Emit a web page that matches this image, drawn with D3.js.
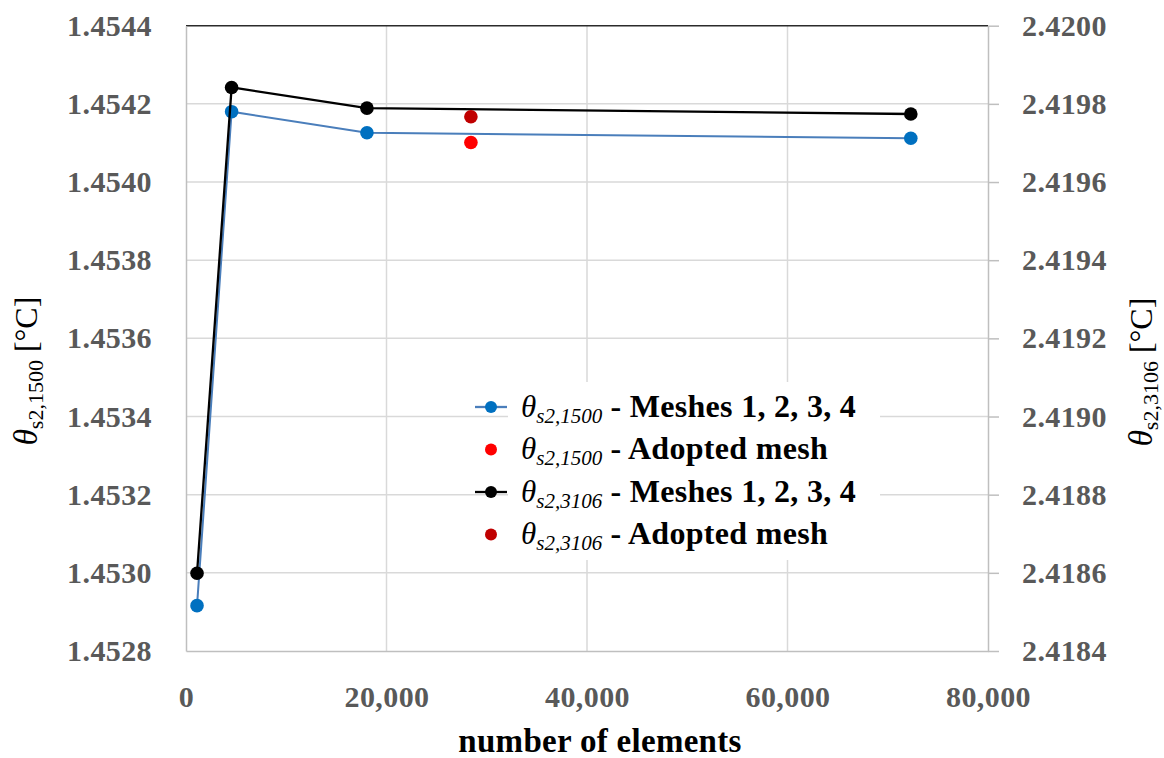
<!DOCTYPE html>
<html>
<head>
<meta charset="utf-8">
<script src="https://cdn.jsdelivr.net/npm/d3@7"></script>
<style>
  body { margin: 0; background: #fff; }
  svg { display: block; }
</style>
</head>
<body>
<svg id="chart" width="1164" height="758"></svg>
<script>
// Mesh study: number of elements vs. temperature at two sensor points
const meshElements = [1100, 4550, 18050, 72300];
const theta1500 = [1.452916, 1.454180, 1.454126, 1.454112];
const theta3106 = [2.418599, 2.419842, 2.419789, 2.419774];
const adoptedElements = [28420];
const adopted1500 = [1.454101];
const adopted3106 = [2.419767];

const xTickValues = [0, 20000, 40000, 60000, 80000];
const leftTickLabels = ["1.4528", "1.4530", "1.4532", "1.4534", "1.4536", "1.4538", "1.4540", "1.4542", "1.4544"];
const rightTickLabels = ["2.4184", "2.4186", "2.4188", "2.4190", "2.4192", "2.4194", "2.4196", "2.4198", "2.4200"];

const legendEntries = [
  { sub: "s2,1500", text: " - Meshes 1, 2, 3, 4", color: "#0070C0", lineColor: "#4a7ebb", line: true },
  { sub: "s2,1500", text: " - Adopted mesh", color: "#FF0000", line: false },
  { sub: "s2,3106", text: " - Meshes 1, 2, 3, 4", color: "#000000", lineColor: "#000000", line: true },
  { sub: "s2,3106", text: " - Adopted mesh", color: "#C00000", line: false }
];

const svg = d3.select("#chart");
const FONT = "'Liberation Serif', 'Times New Roman', serif";

const plot = { left: 186, right: 988, top: 25.7, bottom: 651 };

const x = d3.scaleLinear().domain([0, 80000]).range([plot.left, plot.right]);
const yL = d3.scaleLinear().domain([1.4528, 1.4544]).range([plot.bottom, plot.top]);
const yR = d3.scaleLinear().domain([2.4184, 2.4200]).range([plot.bottom, plot.top]);

const leftTickValues = leftTickLabels.map(Number);
const rightTickValues = rightTickLabels.map(Number);

// gridlines
const grid = svg.append("g");
grid.selectAll("line.h")
  .data(leftTickValues.slice(1, -1))
  .join("line")
  .attr("x1", plot.left).attr("x2", plot.right)
  .attr("y1", d => yL(d)).attr("y2", d => yL(d))
  .attr("stroke", "#d9d9d9").attr("stroke-width", 1.5);
grid.selectAll("line.v")
  .data(xTickValues.slice(1, -1))
  .join("line")
  .attr("x1", d => x(d)).attr("x2", d => x(d))
  .attr("y1", plot.top).attr("y2", plot.bottom)
  .attr("stroke", "#d9d9d9").attr("stroke-width", 1.5);

// top border of the plot area
svg.append("line")
  .attr("x1", plot.left).attr("x2", plot.right)
  .attr("y1", yL(1.4544)).attr("y2", yL(1.4544))
  .attr("stroke", "#2b2b2b").attr("stroke-width", 1.5);

// legend background hides the grid behind it
svg.append("rect")
  .attr("x", 508).attr("y", 382)
  .attr("width", 372).attr("height", 178)
  .attr("fill", "#fff");

function styleAxis(g) {
  g.select(".domain").attr("stroke", "#bfbfbf").attr("stroke-width", 1.5);
  g.selectAll(".tick line").attr("stroke", "#bfbfbf").attr("stroke-width", 1.5);
  g.selectAll(".tick text")
    .attr("fill", "#595959")
    .attr("font-family", FONT)
    .attr("font-weight", "bold")
    .attr("font-size", 30)
    .attr("letter-spacing", 0.4);
}

// bottom axis
const xAxis = svg.append("g")
  .attr("transform", `translate(0,${plot.bottom})`)
  .call(d3.axisBottom(x).tickValues(xTickValues).tickSize(0).tickSizeOuter(0)
    .tickPadding(35).tickFormat(d3.format(",")));
styleAxis(xAxis);

// left axis
const yLAxis = svg.append("g")
  .attr("transform", `translate(${plot.left},0)`)
  .call(d3.axisLeft(yL).tickValues(leftTickValues).tickSize(0).tickSizeOuter(0)
    .tickPadding(34).tickFormat((d, i) => leftTickLabels[i]));
styleAxis(yLAxis);

// right axis
const yRAxis = svg.append("g")
  .attr("transform", `translate(${plot.right},0)`)
  .call(d3.axisRight(yR).tickValues(rightTickValues).tickSize(11).tickSizeOuter(0)
    .tickPadding(23).tickFormat((d, i) => rightTickLabels[i]));
styleAxis(yRAxis);

// series
const s1500 = meshElements.map((e, i) => ({ x: e, y: theta1500[i] }));
const s3106 = meshElements.map((e, i) => ({ x: e, y: theta3106[i] }));

svg.append("path")
  .datum(s1500)
  .attr("fill", "none").attr("stroke", "#4a7ebb").attr("stroke-width", 2)
  .attr("d", d3.line().x(d => x(d.x)).y(d => yL(d.y)));
svg.append("g").selectAll("circle")
  .data(s1500).join("circle")
  .attr("cx", d => x(d.x)).attr("cy", d => yL(d.y)).attr("r", 6.8)
  .attr("fill", "#0070C0");

svg.append("g").selectAll("circle")
  .data(adoptedElements.map((e, i) => ({ x: e, y: adopted1500[i] })))
  .join("circle")
  .attr("cx", d => x(d.x)).attr("cy", d => yL(d.y)).attr("r", 6.8)
  .attr("fill", "#FF0000");

svg.append("path")
  .datum(s3106)
  .attr("fill", "none").attr("stroke", "#000").attr("stroke-width", 2.3)
  .attr("d", d3.line().x(d => x(d.x)).y(d => yR(d.y)));
svg.append("g").selectAll("circle")
  .data(s3106).join("circle")
  .attr("cx", d => x(d.x)).attr("cy", d => yR(d.y)).attr("r", 6.8)
  .attr("fill", "#000");

svg.append("g").selectAll("circle")
  .data(adoptedElements.map((e, i) => ({ x: e, y: adopted3106[i] })))
  .join("circle")
  .attr("cx", d => x(d.x)).attr("cy", d => yR(d.y)).attr("r", 6.8)
  .attr("fill", "#C00000");

// legend
const legend = svg.append("g");
const rowY = [407, 449.5, 492, 534.5];
legendEntries.forEach((e, i) => {
  const g = legend.append("g").attr("transform", `translate(0,${rowY[i]})`);
  if (e.line) {
    g.append("line").attr("x1", 475).attr("x2", 507).attr("y1", 0).attr("y2", 0)
      .attr("stroke", e.lineColor).attr("stroke-width", 2.3);
  }
  g.append("circle").attr("cx", 491).attr("cy", 0).attr("r", 6).attr("fill", e.color);
  const t = g.append("text").attr("x", 521).attr("y", 9.5)
    .attr("font-family", FONT).attr("fill", "#000");
  t.append("tspan").attr("font-style", "italic").attr("font-size", 31).text("θ");
  t.append("tspan").attr("font-style", "italic").attr("font-size", 21).attr("dy", 6).text(e.sub);
  t.append("tspan").attr("font-weight", "bold").attr("font-size", 32).attr("dy", -6)
    .attr("letter-spacing", 0.3).text(e.text);
});

// axis titles
function axisTitle(tx, ty, sub) {
  const t = svg.append("text")
    .attr("transform", `translate(${tx},${ty}) rotate(-90)`)
    .attr("text-anchor", "middle")
    .attr("font-family", FONT).attr("fill", "#000");
  t.append("tspan").attr("font-style", "italic").attr("font-size", 33).text("θ");
  t.append("tspan").attr("font-size", 22).attr("dy", 6).text(sub);
  t.append("tspan").attr("font-size", 32).attr("dy", -6).text(" [°C]");
}
axisTitle(37, 371, "s2,1500");
axisTitle(1152, 372, "s2,3106");

svg.append("text")
  .attr("x", 600).attr("y", 752)
  .attr("text-anchor", "middle")
  .attr("font-family", FONT).attr("font-weight", "bold").attr("font-size", 33)
  .attr("letter-spacing", 0.3)
  .attr("fill", "#000")
  .text("number of elements");
</script>
</body>
</html>
